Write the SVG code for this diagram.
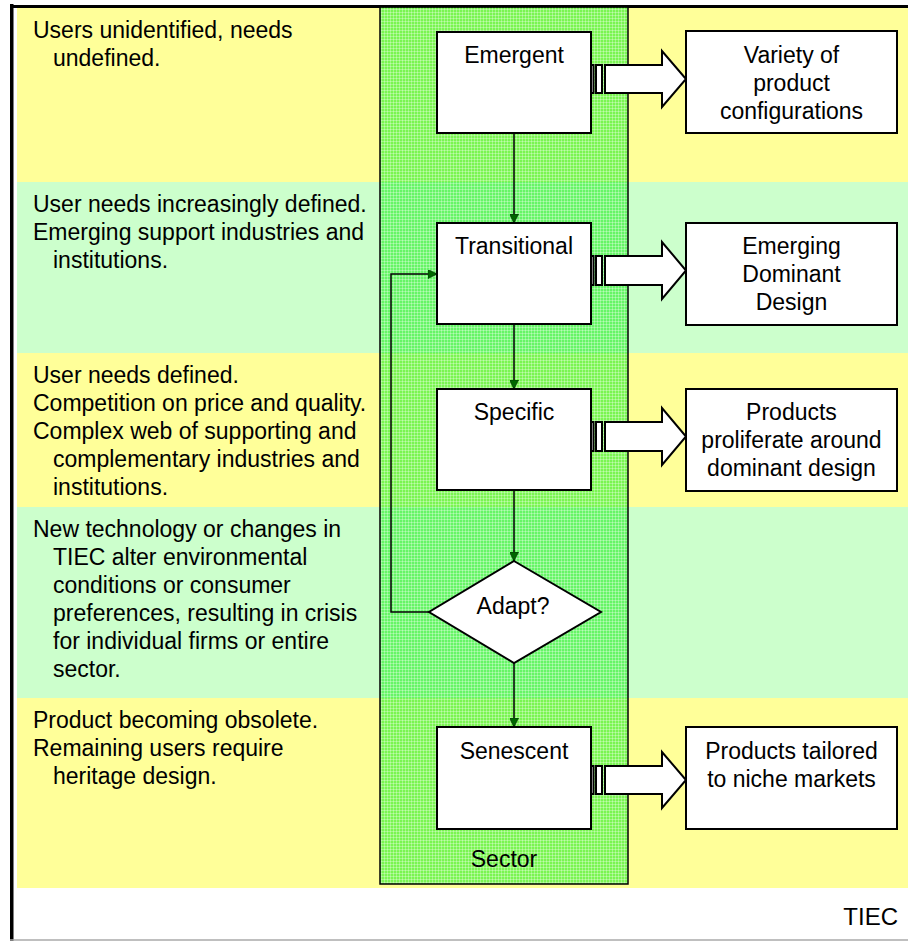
<svg xmlns="http://www.w3.org/2000/svg" width="908" height="941" viewBox="0 0 908 941">
<style>
text{font-family:"Liberation Sans",Arial,sans-serif;font-size:23px;fill:#000}
.c{text-anchor:middle}
.box{fill:#fff;stroke:#000;stroke-width:2}
.conn{stroke:#000;stroke-width:1.5;fill:none}
.blk{fill:#fff;stroke:#000;stroke-width:2;stroke-linejoin:miter}
</style>
<defs>
<pattern id="grid" width="3" height="3" patternUnits="userSpaceOnUse">
<rect width="3" height="3" fill="#22ee22" fill-opacity="0.6"/>
<rect width="3" height="1" fill="#ffffff" fill-opacity="0.3"/>
<rect width="1" height="3" fill="#ffffff" fill-opacity="0.3"/>
</pattern>
<marker id="ah" viewBox="0 0 10 10" refX="10" refY="5" markerWidth="9" markerHeight="9" markerUnits="userSpaceOnUse" orient="auto">
<path d="M0,0 L10,5 L0,10 Z" fill="#006600" stroke="#003300" stroke-width="0.8"/>
</marker>
</defs>
<g id="bands">
<rect x="17" y="8" width="891" height="174" fill="#ffff99"/>
<rect x="17" y="182" width="891" height="171" fill="#ccffcc"/>
<rect x="17" y="353" width="891" height="154" fill="#ffff99"/>
<rect x="17" y="507" width="891" height="191" fill="#ccffcc"/>
<rect x="17" y="698" width="891" height="190" fill="#ffff99"/>
</g>
<g id="frame">
<line x1="11.75" y1="4" x2="11.75" y2="941" stroke="#000" stroke-width="3.5"/>
<line x1="10" y1="6.5" x2="908" y2="6.5" stroke="#000" stroke-width="3"/>
<line x1="10" y1="940" x2="908" y2="940" stroke="#aaaaaa" stroke-width="1.5"/>
</g>
<g id="sector">
<rect x="380" y="7" width="248" height="877" fill="url(#grid)" stroke="#000" stroke-width="1.5"/>
<text class="c" x="504" y="867">Sector</text>
</g>
<g id="labels">
<text x="33" y="38">Users unidentified, needs</text>
<text x="53" y="66">undefined.</text>
<text x="33" y="212">User needs increasingly defined.</text>
<text x="33" y="240">Emerging support industries and</text>
<text x="53" y="268">institutions.</text>
<text x="33" y="383">User needs defined.</text>
<text x="33" y="411">Competition on price and quality.</text>
<text x="33" y="439">Complex web of supporting and</text>
<text x="53" y="467">complementary industries and</text>
<text x="53" y="495">institutions.</text>
<text x="33" y="537">New technology or changes in</text>
<text x="53" y="565">TIEC alter environmental</text>
<text x="53" y="593">conditions or consumer</text>
<text x="53" y="621">preferences, resulting in crisis</text>
<text x="53" y="649">for individual firms or entire</text>
<text x="53" y="677">sector.</text>
<text x="33" y="728">Product becoming obsolete.</text>
<text x="33" y="756">Remaining users require</text>
<text x="53" y="784">heritage design.</text>
<text x="898" y="925" style="text-anchor:end;font-size:24px">TIEC</text>
</g>
<g id="connectors">
<line class="conn" x1="514" y1="133" x2="514" y2="223" marker-end="url(#ah)"/>
<line class="conn" x1="514" y1="324" x2="514" y2="389" marker-end="url(#ah)"/>
<line class="conn" x1="514" y1="490" x2="514" y2="561" marker-end="url(#ah)"/>
<line class="conn" x1="514" y1="663" x2="514" y2="727" marker-end="url(#ah)"/>
<polyline class="conn" points="429,612 391,612 391,274 437,274" marker-end="url(#ah)"/>
</g>
<g id="emergent">
<rect class="box" x="437" y="32" width="154" height="101"/>
<text class="c" x="514" y="63">Emergent</text>
</g>
<g id="transitional">
<rect class="box" x="437" y="223" width="154" height="101"/>
<text class="c" x="514" y="254">Transitional</text>
</g>
<g id="specific">
<rect class="box" x="437" y="389" width="154" height="101"/>
<text class="c" x="514" y="420">Specific</text>
</g>
<g id="adapt">
<polygon class="box" points="514,561 601,612 514,663 429,612"/>
<text class="c" x="513" y="614">Adapt?</text>
</g>
<g id="senescent">
<rect class="box" x="437" y="727" width="154" height="102"/>
<text class="c" x="514" y="759">Senescent</text>
</g>
<g id="arrow1">
<rect class="blk" x="591" y="65" width="2.5" height="28"/>
<rect class="blk" x="596" y="65" width="6" height="28"/>
<polygon class="blk" points="605,65 662,65 662,51 686,79 662,107 662,93 605,93"/>
</g>
<g id="arrow2">
<rect class="blk" x="591" y="256" width="2.5" height="29"/>
<rect class="blk" x="596" y="256" width="6" height="29"/>
<polygon class="blk" points="605,256 662,256 662,242 686,270.5 662,299 662,285 605,285"/>
</g>
<g id="arrow3">
<rect class="blk" x="591" y="422" width="2.5" height="29"/>
<rect class="blk" x="596" y="422" width="6" height="29"/>
<polygon class="blk" points="605,422 662,422 662,408 686,436.5 662,465 662,451 605,451"/>
</g>
<g id="arrow5">
<rect class="blk" x="591" y="766" width="2.5" height="28"/>
<rect class="blk" x="596" y="766" width="6" height="28"/>
<polygon class="blk" points="605,766 662,766 662,752 686,780 662,808 662,794 605,794"/>
</g>
<g id="out1">
<rect class="box" x="686" y="31" width="211" height="102"/>
<text class="c" x="791.5" y="63">Variety of</text>
<text class="c" x="791.5" y="91">product</text>
<text class="c" x="791.5" y="119">configurations</text>
</g>
<g id="out2">
<rect class="box" x="686" y="223" width="211" height="102"/>
<text class="c" x="791.5" y="254">Emerging</text>
<text class="c" x="791.5" y="282">Dominant</text>
<text class="c" x="791.5" y="310">Design</text>
</g>
<g id="out3">
<rect class="box" x="686" y="389" width="211" height="102"/>
<text class="c" x="791.5" y="420">Products</text>
<text class="c" x="791.5" y="448">proliferate around</text>
<text class="c" x="791.5" y="476">dominant design</text>
</g>
<g id="out5">
<rect class="box" x="686" y="727" width="211" height="102"/>
<text class="c" x="791.5" y="759">Products tailored</text>
<text class="c" x="791.5" y="787">to niche markets</text>
</g>
</svg>
